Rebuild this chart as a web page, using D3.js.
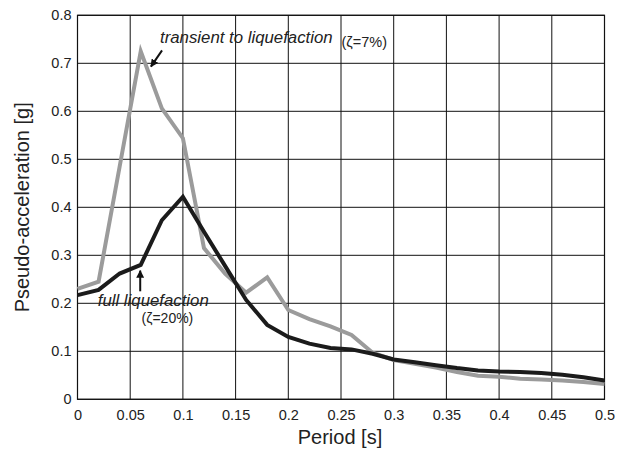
<!DOCTYPE html>
<html>
<head>
<meta charset="utf-8">
<script src="https://cdn.jsdelivr.net/npm/d3@7/dist/d3.min.js"></script>
<style>
  html, body { margin: 0; padding: 0; background: #fff; }
  svg { display: block; }
  text { font-family: "Liberation Sans", Arial, Helvetica, sans-serif; fill: #222; }
</style>
</head>
<body>
<svg id="chart" width="617" height="451"></svg>
<script>
// Period axis (s), sampled every 0.02 s
const periods = [0, 0.02, 0.04, 0.06, 0.08, 0.10, 0.12, 0.14, 0.16, 0.18, 0.20,
                 0.22, 0.24, 0.26, 0.28, 0.30, 0.32, 0.34, 0.36, 0.38, 0.40,
                 0.42, 0.44, 0.46, 0.48, 0.50];

// Pseudo-acceleration spectra [g]
const transientSa = [0.230, 0.245, 0.485, 0.725, 0.606, 0.544, 0.315, 0.262, 0.222, 0.254, 0.186,
                     0.167, 0.152, 0.134, 0.097, 0.082, 0.074, 0.066, 0.057, 0.049, 0.047,
                     0.043, 0.041, 0.039, 0.036, 0.032];
const fullSa = [0.217, 0.228, 0.262, 0.280, 0.373, 0.422, 0.349, 0.278, 0.207, 0.155, 0.130,
                0.116, 0.107, 0.104, 0.095, 0.083, 0.077, 0.071, 0.065, 0.060, 0.058,
                0.057, 0.055, 0.051, 0.046, 0.039];

const xTicks = [0, 0.05, 0.1, 0.15, 0.2, 0.25, 0.3, 0.35, 0.4, 0.45, 0.5];
const xTickLabels = ["0", "0.05", "0.1", "0.15", "0.2", "0.25", "0.3", "0.35", "0.4", "0.45", "0.5"];
const yTicks = [0, 0.1, 0.2, 0.3, 0.4, 0.5, 0.6, 0.7, 0.8];
const yTickLabels = ["0", "0.1", "0.2", "0.3", "0.4", "0.5", "0.6", "0.7", "0.8"];

const svg = d3.select("#chart");
const margin = { left: 77.5, right: 12.5, top: 15.3, bottom: 51.7 };
const W = 617, H = 451;

const x = d3.scaleLinear().domain([0, 0.5]).range([margin.left, W - margin.right]);
const y = d3.scaleLinear().domain([0, 0.8]).range([H - margin.bottom, margin.top]);

// Grid
const grid = svg.append("g").attr("stroke", "#111").attr("stroke-width", 1);
grid.selectAll("line.vx").data(xTicks).join("line")
  .attr("x1", d => x(d)).attr("x2", d => x(d))
  .attr("y1", y(0)).attr("y2", y(0.8));
grid.selectAll("line.hy").data(yTicks).join("line")
  .attr("x1", x(0)).attr("x2", x(0.5))
  .attr("y1", d => y(d)).attr("y2", d => y(d));

// Frame
svg.append("rect")
  .attr("x", x(0)).attr("y", y(0.8))
  .attr("width", x(0.5) - x(0)).attr("height", y(0) - y(0.8))
  .attr("fill", "none").attr("stroke", "#111").attr("stroke-width", 1.2);

// Axes (labels only; grid carries the tick positions)
const xAxis = d3.axisBottom(x).tickValues(xTicks)
  .tickFormat((d, i) => xTickLabels[i]).tickSize(0).tickPadding(10);
const gx = svg.append("g").attr("transform", `translate(0,${y(0)})`).call(xAxis);
gx.select(".domain").remove();
gx.selectAll("text").attr("font-size", 14.5).attr("fill", "#222")
  .style("font-family", '"Liberation Sans", Arial, sans-serif');

const yAxis = d3.axisLeft(y).tickValues(yTicks)
  .tickFormat((d, i) => yTickLabels[i]).tickSize(0).tickPadding(6);
const gy = svg.append("g").attr("transform", `translate(${x(0)},0)`).call(yAxis);
gy.select(".domain").remove();
gy.selectAll("text").attr("font-size", 14.5).attr("fill", "#222")
  .style("font-family", '"Liberation Sans", Arial, sans-serif');

// Axis titles
svg.append("text")
  .attr("x", (x(0) + x(0.5)) / 2 - 1).attr("y", 444)
  .attr("text-anchor", "middle").attr("font-size", 20)
  .text("Period [s]");
svg.append("text")
  .attr("transform", `translate(28.5,${(y(0) + y(0.8)) / 2}) rotate(-90)`)
  .attr("text-anchor", "middle").attr("font-size", 20)
  .text("Pseudo-acceleration [g]");

// Spectra
const line = d3.line().x((d, i) => x(periods[i])).y(d => y(d));
svg.append("path").datum(transientSa)
  .attr("d", line).attr("fill", "none")
  .attr("stroke", "#9b9b9b").attr("stroke-width", 4).attr("stroke-linejoin", "miter");
svg.append("path").datum(fullSa)
  .attr("d", line).attr("fill", "none")
  .attr("stroke", "#1b1b1b").attr("stroke-width", 4).attr("stroke-linejoin", "miter");

// Annotation arrows
const defs = svg.append("defs");
defs.append("marker")
  .attr("id", "head").attr("viewBox", "0 0 10 10")
  .attr("refX", 9).attr("refY", 5)
  .attr("markerWidth", 8).attr("markerHeight", 8)
  .attr("markerUnits", "userSpaceOnUse")
  .attr("orient", "auto")
  .append("path").attr("d", "M0,0 L10,5 L0,10 Z").attr("fill", "#111");

function arrow(x1, y1, x2, y2) {
  svg.append("line")
    .attr("x1", x(x1)).attr("y1", y(y1))
    .attr("x2", x(x2)).attr("y2", y(y2))
    .attr("stroke", "#111").attr("stroke-width", 2)
    .attr("marker-end", "url(#head)");
}
arrow(0.0802, 0.727, 0.0697, 0.693);
arrow(0.0595, 0.225, 0.0595, 0.268);

// Annotation labels
const ann = svg.append("g");
ann.append("text")
  .attr("x", x(0.0783)).attr("y", y(0.742))
  .attr("font-size", 16.8).attr("font-style", "italic")
  .text("transient to liquefaction");
ann.append("text")
  .attr("x", x(0.2505)).attr("y", y(0.733))
  .attr("font-size", 14.5)
  .text("(\u03B6=7%)");
ann.append("text")
  .attr("x", x(0.0192)).attr("y", y(0.194))
  .attr("font-size", 16.8).attr("font-style", "italic")
  .text("full liquefaction");
ann.append("text")
  .attr("x", x(0.0608)).attr("y", y(0.158))
  .attr("font-size", 14)
  .text("(\u03B6=20%)");
</script>
</body>
</html>
